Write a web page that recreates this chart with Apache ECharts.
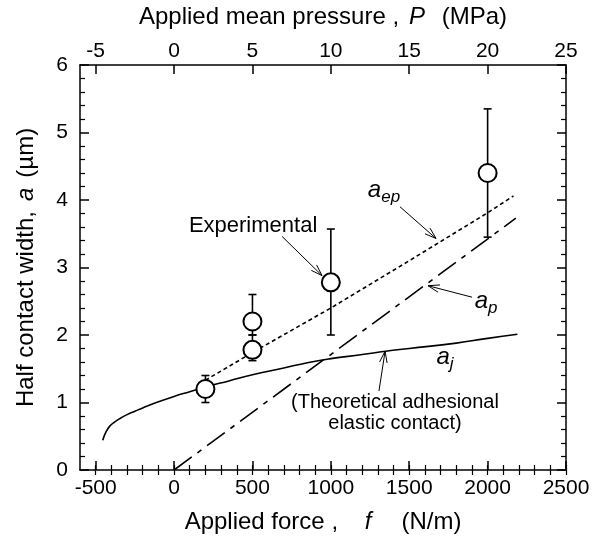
<!DOCTYPE html>
<html>
<head>
<meta charset="utf-8">
<script src="https://cdn.jsdelivr.net/npm/echarts@6/dist/echarts.min.js"></script>
<style>
  html, body { margin: 0; padding: 0; background: #fff; }
  #main { width: 600px; height: 539px; }
</style>
</head>
<body>
<div id="main"></div>
<script>
// experimental points (force N/m, half width um, error bar ends)
const forceExp = [200, 500, 500, 1000, 2000];
const aExp = [1.2, 2.2, 1.78, 2.78, 4.4];
const aExpLow = [1.0, 2.0, 1.62, 2.0, 3.45];
const aExpHigh = [1.4, 2.6, 2.0, 3.57, 5.35];

// a_j : theoretical adhesional elastic contact
const ajForce = [-455, -435, -410, -380, -340, -300, -250, -200, -100, 0, 100, 200, 350, 500, 700, 850, 1000, 1200, 1350, 1500, 1800, 2000, 2190];
const ajValue = [0.44, 0.56, 0.65, 0.71, 0.77, 0.82, 0.87, 0.92, 1.01, 1.09, 1.16, 1.23, 1.32, 1.41, 1.51, 1.59, 1.65, 1.71, 1.76, 1.80, 1.88, 1.95, 2.01];

// a_ep (dotted) and a_p (dash-dot)
const aepForce = [200, 500, 1000, 1500, 2000, 2165];
const aepValue = [1.33, 1.74, 2.40, 3.10, 3.81, 4.06];
const apForce = [0, 2180];
const apValue = [0, 3.73];

// tick labels
const forceTicks = [-500, 0, 500, 1000, 1500, 2000, 2500];
const pressureTicks = [-5, 0, 5, 10, 15, 20, 25];
const forceMinor = [];
for (let v = -500; v <= 2500; v += 100) forceMinor.push(v);
const pressureMinor = [];
for (let v = -5; v <= 25; v += 1) pressureMinor.push(v);

const font = 'Liberation Sans, Arial, sans-serif';
const chart = echarts.init(document.getElementById('main'));

const zip = (xs, ys) => xs.map((x, i) => [x, ys[i]]);
const plain = v => String(v);

const lineAxis = { show: true, onZero: false, lineStyle: { color: '#000', width: 1.5 } };
const majorTick = { color: '#000', width: 1.5 };
const minorTickStyle = { color: '#000', width: 1.2 };
const titleRich = {
  n: { fontSize: 24, color: '#000', fontFamily: font },
  i: { fontSize: 24, color: '#000', fontStyle: 'italic', fontFamily: font }
};

const option = {
  animation: false,
  backgroundColor: '#fff',
  textStyle: { fontFamily: font },
  grid: { left: 80, right: 34, top: 65, bottom: 68 },
  xAxis: [
    {
      type: 'value', position: 'bottom', min: -600, max: 2500,
      axisLine: lineAxis,
      axisTick: { show: true, inside: true, length: 9, customValues: forceTicks, lineStyle: majorTick },
      axisLabel: { customValues: forceTicks, formatter: plain, color: '#000', fontSize: 21, margin: 8, fontFamily: font },
      splitLine: { show: false },
      name: '{n|Applied force ,}        {i|f}         {n|(N/m)}',
      nameLocation: 'middle', nameGap: 40,
      nameTextStyle: { rich: titleRich }
    },
    {
      type: 'value', position: 'bottom', min: -600, max: 2500,
      axisLine: { show: false },
      axisTick: { show: true, inside: true, length: 5, customValues: forceMinor, lineStyle: minorTickStyle },
      axisLabel: { show: false },
      splitLine: { show: false }
    },
    {
      type: 'value', position: 'top', min: -6, max: 25,
      axisLine: lineAxis,
      axisTick: { show: true, inside: true, length: 9, customValues: pressureTicks, lineStyle: majorTick },
      axisLabel: { customValues: pressureTicks, formatter: plain, color: '#000', fontSize: 21, margin: 3, fontFamily: font },
      splitLine: { show: false },
      name: '{n|Applied mean pressure ,}   {i|P}     {n|(MPa)}',
      nameLocation: 'middle', nameGap: 36,
      nameTextStyle: { rich: titleRich }
    },
    {
      type: 'value', position: 'top', min: -6, max: 25,
      axisLine: { show: false },
      axisTick: { show: true, inside: true, length: 5, customValues: pressureMinor, lineStyle: minorTickStyle },
      axisLabel: { show: false },
      splitLine: { show: false }
    }
  ],
  yAxis: [
    {
      type: 'value', position: 'left', min: 0, max: 6, interval: 1,
      axisLine: lineAxis,
      axisTick: { inside: true, length: 9, lineStyle: majorTick },
      minorTick: { show: true, splitNumber: 5, length: 5, lineStyle: minorTickStyle },
      axisLabel: { color: '#000', fontSize: 21, margin: 12, fontFamily: font },
      splitLine: { show: false },
      name: '{n|Half contact width,}   {i|a}   {n|(µm)}',
      nameLocation: 'middle', nameGap: 42, nameRotate: 90,
      nameTextStyle: { rich: titleRich }
    },
    {
      type: 'value', position: 'right', min: 0, max: 6, interval: 1,
      axisLine: lineAxis,
      axisTick: { inside: true, length: 9, lineStyle: majorTick },
      minorTick: { show: true, splitNumber: 5, length: 5, lineStyle: minorTickStyle },
      axisLabel: { show: false },
      splitLine: { show: false }
    }
  ],
  series: [
    {
      name: 'a_j', type: 'line', data: zip(ajForce, ajValue), showSymbol: false, smooth: true,
      lineStyle: { color: '#000', width: 1.6 }
    },
    {
      name: 'a_ep', type: 'line', data: zip(aepForce, aepValue), showSymbol: false,
      lineStyle: { color: '#000', width: 1.6, type: [4, 3] }
    },
    {
      name: 'a_p', type: 'line', data: zip(apForce, apValue), showSymbol: false,
      lineStyle: { color: '#000', width: 1.6, type: [22, 7, 5, 7] }
    },
    {
      name: 'error', type: 'custom',
      data: forceExp.map((f, i) => [f, aExpLow[i], aExpHigh[i]]),
      encode: { x: 0, y: [1, 2] },
      renderItem: (params, api) => {
        const lo = api.coord([api.value(0), api.value(1)]);
        const hi = api.coord([api.value(0), api.value(2)]);
        const w = 4;
        const st = { stroke: '#000', lineWidth: 1.6 };
        return {
          type: 'group',
          children: [
            { type: 'line', shape: { x1: lo[0], y1: lo[1], x2: hi[0], y2: hi[1] }, style: st },
            { type: 'line', shape: { x1: lo[0] - w, y1: lo[1], x2: lo[0] + w, y2: lo[1] }, style: st },
            { type: 'line', shape: { x1: hi[0] - w, y1: hi[1], x2: hi[0] + w, y2: hi[1] }, style: st }
          ]
        };
      },
      z: 3
    },
    {
      name: 'Experimental', type: 'scatter', data: zip(forceExp, aExp),
      symbol: 'circle', symbolSize: 18,
      itemStyle: { color: '#fff', borderColor: '#000', borderWidth: 2, opacity: 1 },
      z: 4
    }
  ]
};

chart.setOption(option);

// annotations placed in data units (force, a)
const noteText = [
  { text: '{n|Experimental}', at: [504, 3.61] },
  { text: '{i|a}{s|ep}', at: [1339, 4.15] },
  { text: '{i|a}{s|p}', at: [1990, 2.50] },
  { text: '{i|a}{s|j}', at: [1728, 1.67] },
  { text: '{t|(Theoretical adhesional}', at: [1409, 1.00] },
  { text: '{t|elastic contact)}', at: [1409, 0.69] }
];
const noteArrows = [
  [[689, 3.46], [944, 2.88]],
  [[1441, 3.90], [1671, 3.43]],
  [[1901, 2.56], [1620, 2.73]],
  [[1307, 1.17], [1346, 1.76]]
];

const toPx = p => chart.convertToPixel({ xAxisIndex: 0, yAxisIndex: 0 }, p);
const rich = {
  n: { fontSize: 22, color: '#000', fontFamily: font },
  t: { fontSize: 20, color: '#000', fontFamily: font },
  i: { fontSize: 24, color: '#000', fontStyle: 'italic', fontFamily: font },
  s: { fontSize: 17, color: '#000', fontStyle: 'italic', fontFamily: font, padding: [14, 0, 0, 0] }
};

const graphics = [];
noteText.forEach(n => {
  const p = toPx(n.at);
  graphics.push({
    type: 'text', x: p[0], y: p[1],
    style: { text: n.text, rich: rich, align: 'center', verticalAlign: 'middle' }
  });
});
noteArrows.forEach(a => {
  const t = toPx(a[0]);
  const h = toPx(a[1]);
  const ang = Math.atan2(h[1] - t[1], h[0] - t[0]);
  const L = 12, spread = 0.32;
  const l1 = [h[0] - L * Math.cos(ang - spread), h[1] - L * Math.sin(ang - spread)];
  const l2 = [h[0] - L * Math.cos(ang + spread), h[1] - L * Math.sin(ang + spread)];
  graphics.push({
    type: 'line', shape: { x1: t[0], y1: t[1], x2: h[0], y2: h[1] },
    style: { stroke: '#000', lineWidth: 1 }
  });
  graphics.push({
    type: 'polyline', shape: { points: [l1, h, l2] },
    style: { stroke: '#000', lineWidth: 1, fill: null }
  });
});
chart.setOption({ graphic: graphics });
</script>
</body>
</html>
